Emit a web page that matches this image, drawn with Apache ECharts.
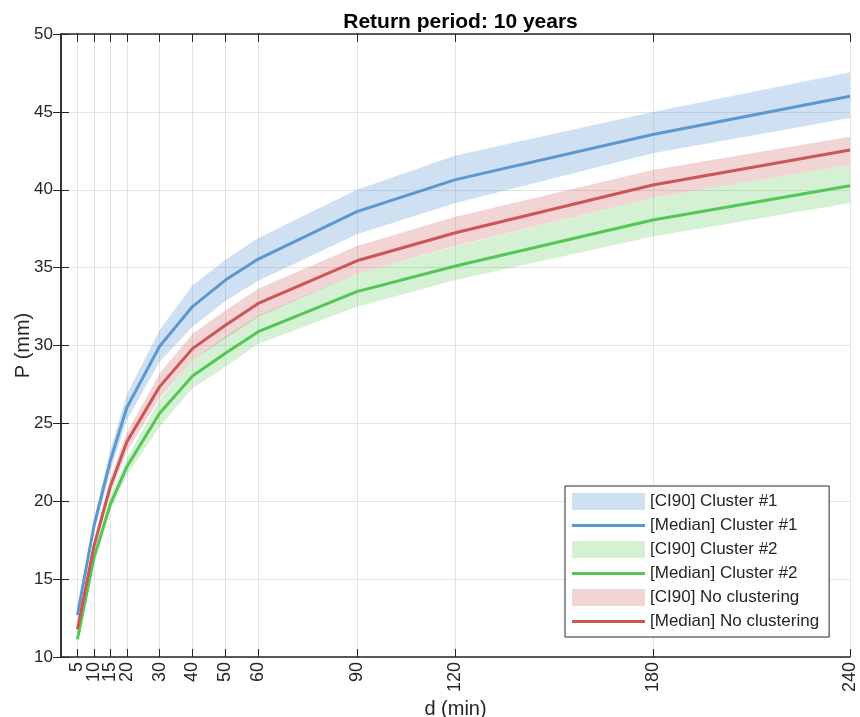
<!DOCTYPE html>
<html>
<head>
<meta charset="utf-8" />
<script src="https://cdn.jsdelivr.net/npm/echarts@6/dist/echarts.min.js"></script>
<style>
  html, body { margin: 0; padding: 0; background: #fff; }
  #chart { width: 860px; height: 717px; }
</style>
</head>
<body>
<div id="chart"></div>
<script>
// duration (min)
const durations = [5, 10, 15, 20, 30, 40, 50, 60, 90, 120, 180, 240];
const yTicks = [10, 15, 20, 25, 30, 35, 40, 45, 50];

// Cluster #1
const c1Median = [12.7, 18.4, 22.6, 26.0, 29.95, 32.5, 34.2, 35.55, 38.6, 40.65, 43.55, 46.0];
const c1Lo = [12.45, 17.95, 21.9, 25.2, 28.95, 31.2, 32.85, 34.15, 37.15, 39.15, 42.35, 44.6];
const c1Hi = [12.95, 18.8, 23.3, 26.85, 31.0, 33.85, 35.5, 36.9, 40.0, 42.2, 45.0, 47.55];

// Cluster #2
const c2Median = [11.14, 16.34, 19.8, 22.2, 25.65, 28.04, 29.5, 30.89, 33.46, 35.1, 38.06, 40.26];
const c2Lo = [11.0, 16.0, 19.35, 21.65, 24.8, 27.25, 28.64, 30.1, 32.49, 34.2, 37.0, 39.15];
const c2Hi = [11.3, 16.7, 20.3, 22.75, 26.5, 29.07, 30.57, 31.93, 34.63, 36.35, 39.5, 41.6];

// No clustering
const ncMedian = [11.78, 17.1, 20.95, 23.8, 27.36, 29.8, 31.3, 32.7, 35.44, 37.24, 40.3, 42.55];
const ncLo = [11.6, 16.75, 20.45, 23.2, 26.6, 29.05, 30.45, 31.85, 34.63, 36.39, 39.5, 41.6];
const ncHi = [11.95, 17.45, 21.45, 24.4, 28.2, 30.75, 32.25, 33.65, 36.39, 38.27, 41.27, 43.4];

const FONT = 'Liberation Sans';
const AXIS_COLOR = '#262626';

const BLUE = '#5d97d0';
const GREEN = '#55c655';
const RED = '#cc5555';
const BLUE_BAND = 'rgba(93, 151, 208, 0.3)';
const GREEN_BAND = 'rgba(85, 198, 85, 0.25)';
const RED_BAND = 'rgba(204, 85, 85, 0.25)';

// thin bar used as legend icon for the median lines
const LINE_ICON = 'path://M0,0 L73,0 L73,3 L0,3 Z';

// labels packed closely at the left get hidden as overlapping,
// so every other one goes on a second (lineless) bottom axis
const xLabelsA = durations.filter((d, i) => i % 2 === 0);
const xLabelsB = durations.filter((d, i) => i % 2 === 1);

function pairs(ys) {
  return durations.map((d, i) => [d, ys[i]]);
}

// CI band as one polygon (upper edge forward, lower edge back)
function bandSeries(name, lo, hi, color) {
  return {
    name: name,
    type: 'custom',
    silent: true,
    z: 1,
    itemStyle: { color: color },
    data: durations.map((d, i) => [d, lo[i], hi[i]]),
    encode: { x: 0, y: [1, 2] },
    renderItem: function (params, api) {
      if (params.dataIndex !== 0) return null;
      const pts = [];
      for (let i = 0; i < durations.length; i++) pts.push(api.coord([durations[i], hi[i]]));
      for (let i = durations.length - 1; i >= 0; i--) pts.push(api.coord([durations[i], lo[i]]));
      return {
        type: 'polygon',
        shape: { points: pts },
        style: { fill: color },
      };
    },
  };
}

function medianSeries(name, ys, color) {
  return {
    name: name,
    type: 'line',
    z: 3,
    symbol: 'none',
    silent: true,
    lineStyle: { color: color, width: 3 },
    itemStyle: { color: color },
    data: pairs(ys),
  };
}

function xLabelStyle(values) {
  return {
    customValues: values,
    showMinLabel: true,
    showMaxLabel: true,
    hideOverlap: false,
    rotate: 90,
    margin: 5,
    fontFamily: FONT,
    fontSize: 18,
    color: AXIS_COLOR,
  };
}

const chart = echarts.init(document.getElementById('chart'));

const option = {
  backgroundColor: '#ffffff',
  animation: false,
  textStyle: { fontFamily: FONT },
  title: {
    text: 'Return period: 10 years',
    left: 455.5,
    textAlign: 'center',
    top: 7,
    textStyle: { fontFamily: FONT, fontSize: 21, fontWeight: 'bold', color: '#000' },
  },
  grid: { left: 61, right: 10, top: 34, bottom: 60, outerBoundsMode: 'none', containLabel: false },
  legend: {
    orient: 'vertical',
    left: 565,
    top: 486,
    padding: [7, 10, 7, 7],
    itemWidth: 73,
    itemHeight: 17,
    itemGap: 7,
    symbolKeepAspect: true,
    backgroundColor: '#ffffff',
    borderColor: AXIS_COLOR,
    borderWidth: 1,
    borderRadius: 0,
    textStyle: { fontFamily: FONT, fontSize: 17, color: AXIS_COLOR },
    data: [
      { name: '[CI90] Cluster #1', icon: 'rect' },
      { name: '[Median] Cluster #1', icon: LINE_ICON },
      { name: '[CI90] Cluster #2', icon: 'rect' },
      { name: '[Median] Cluster #2', icon: LINE_ICON },
      { name: '[CI90] No clustering', icon: 'rect' },
      { name: '[Median] No clustering', icon: LINE_ICON },
    ],
  },
  xAxis: [
    {
      type: 'value',
      min: 0,
      max: 240,
      name: 'd (min)',
      nameLocation: 'middle',
      nameGap: 42,
      nameMoveOverlap: false,
      nameTextStyle: { fontFamily: FONT, fontSize: 20, color: AXIS_COLOR },
      axisLine: { show: true, onZero: false, lineStyle: { color: AXIS_COLOR, width: 1.5 } },
      axisTick: { show: true, inside: true, length: 8, customValues: durations, lineStyle: { color: AXIS_COLOR } },
      axisLabel: xLabelStyle(xLabelsA),
      splitLine: { show: true, lineStyle: { color: '#e3e3e3', width: 1 } },
    },
    {
      type: 'value',
      position: 'top',
      min: 0,
      max: 240,
      axisLine: { show: true, lineStyle: { color: AXIS_COLOR, width: 1.5 } },
      axisTick: { show: true, inside: true, length: 8, customValues: durations, lineStyle: { color: AXIS_COLOR } },
      axisLabel: { show: false },
      splitLine: { show: false },
    },
    {
      type: 'value',
      position: 'bottom',
      offset: 0,
      min: 0,
      max: 240,
      axisLine: { show: false },
      axisTick: { show: false },
      axisLabel: xLabelStyle(xLabelsB),
      splitLine: { show: false },
    },
  ],
  yAxis: [
    {
      type: 'value',
      min: 10,
      max: 50,
      interval: 5,
      name: 'P (mm)',
      nameLocation: 'middle',
      nameGap: 28,
      nameMoveOverlap: false,
      nameTextStyle: { fontFamily: FONT, fontSize: 20, color: AXIS_COLOR },
      axisLine: { show: true, onZero: false, lineStyle: { color: AXIS_COLOR, width: 1.5 } },
      axisTick: { show: true, inside: true, length: 8, lineStyle: { color: AXIS_COLOR } },
      axisLabel: {
        customValues: yTicks,
        showMinLabel: true,
        showMaxLabel: true,
        margin: 8,
        fontFamily: FONT,
        fontSize: 17,
        color: AXIS_COLOR,
      },
      splitLine: { show: true, lineStyle: { color: '#e3e3e3', width: 1 } },
    },
    {
      type: 'value',
      position: 'right',
      min: 10,
      max: 50,
      interval: 5,
      axisLine: { show: true, lineStyle: { color: AXIS_COLOR, width: 1.5 } },
      axisTick: { show: true, inside: true, length: 8, lineStyle: { color: AXIS_COLOR } },
      axisLabel: { show: false },
      splitLine: { show: false },
    },
  ],
  series: [
    bandSeries('[CI90] Cluster #1', c1Lo, c1Hi, BLUE_BAND),
    bandSeries('[CI90] Cluster #2', c2Lo, c2Hi, GREEN_BAND),
    bandSeries('[CI90] No clustering', ncLo, ncHi, RED_BAND),
    medianSeries('[Median] Cluster #1', c1Median, BLUE),
    medianSeries('[Median] Cluster #2', c2Median, GREEN),
    medianSeries('[Median] No clustering', ncMedian, RED),
  ],
};

chart.setOption(option);
</script>
</body>
</html>
